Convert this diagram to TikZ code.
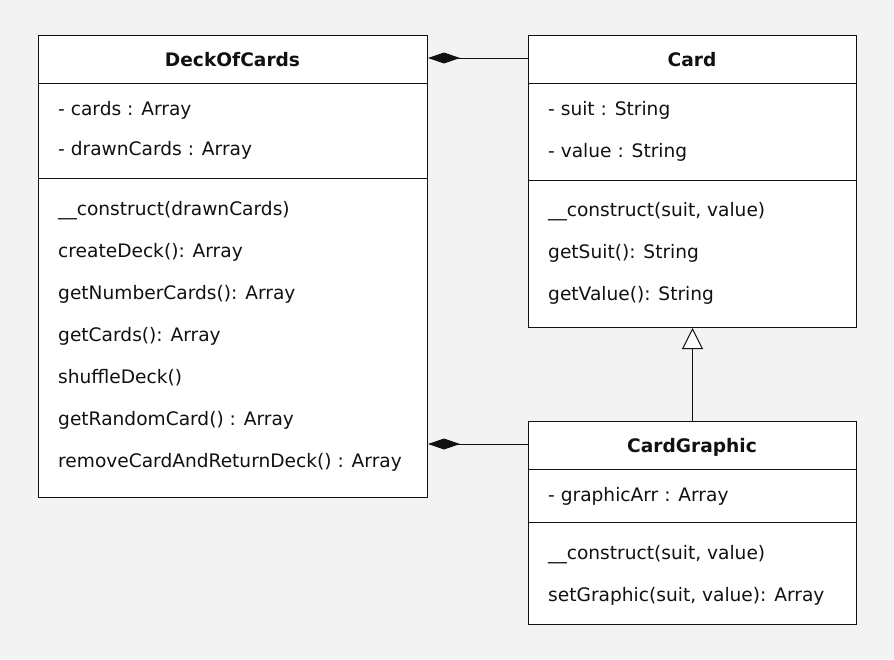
\documentclass[tikz,border=0pt]{standalone}
\usepackage{fontspec}
\setmainfont{DejaVu Sans}
\usepackage{tikz}
\usetikzlibrary{arrows.meta, positioning}
\definecolor{paper}{RGB}{243, 243, 243}
\definecolor{ink}{RGB}{17, 17, 17}

\newcommand{\umlsize}{\fontsize{18.6}{22}\selectfont}

\tikzset{
  classbox/.style={draw=ink, fill=white, line width=1pt, rectangle, inner sep=0pt, anchor=north west},
  member/.style={anchor=base west, inner sep=0pt, text=ink},
  classname/.style={anchor=base, inner sep=0pt, text=ink, font=\umlsize\bfseries},
  compose/.style={draw=ink, line width=1pt, -{Diamond[length=32pt, width=11pt, fill=ink]}},
  inherit/.style={draw=ink, line width=1pt, -{Triangle[open, length=21pt, width=21pt, fill=white]}}
}

\begin{document}
\begin{tikzpicture}[x=1pt, y=-1pt, font=\umlsize]

  \fill[paper] (0, 0) rectangle (894, 659);

  % boxes
  \node[classbox, minimum width=389pt, minimum height=462pt] (deck) at (38, 35) {};
  \node[classbox, minimum width=328pt, minimum height=292pt] (card) at (528, 35) {};
  \node[classbox, minimum width=328pt, minimum height=203pt] (graphic) at (528, 421) {};

  \draw[ink, line width=1pt] (deck.west |- 0, 83) -- (deck.east |- 0, 83);
  \draw[ink, line width=1pt] (deck.west |- 0, 178) -- (deck.east |- 0, 178);
  \draw[ink, line width=1pt] (card.west |- 0, 83) -- (card.east |- 0, 83);
  \draw[ink, line width=1pt] (card.west |- 0, 180) -- (card.east |- 0, 180);
  \draw[ink, line width=1pt] (graphic.west |- 0, 469) -- (graphic.east |- 0, 469);
  \draw[ink, line width=1pt] (graphic.west |- 0, 522) -- (graphic.east |- 0, 522);

  % DeckOfCards
  \node[classname] (deckTitle) at (232.5, 66) {DeckOfCards};
  \node[member] (deckCards) at (58, 115) {- cards : Array};
  \node[member] (deckDrawn) at (58, 155) {- drawnCards : Array};
  \node[member] (deckConstruct) at (58, 215) {\_\_construct(drawnCards)};
  \node[member] (deckCreate) at (58, 257) {createDeck(): Array};
  \node[member] (deckNumber) at (58, 299) {getNumberCards(): Array};
  \node[member] (deckGet) at (58, 341) {getCards(): Array};
  \node[member] (deckShuffle) at (58, 383) {shuffleDeck()};
  \node[member] (deckRandom) at (58, 425) {getRandomCard() : Array};
  \node[member] (deckRemove) at (58, 467) {removeCardAndReturnDeck() : Array};

  % Card
  \node[classname] (cardTitle) at (692, 66) {Card};
  \node[member] (cardSuit) at (548, 115) {- suit : String};
  \node[member] (cardValue) at (548, 157) {- value : String};
  \node[member] (cardConstruct) at (548, 216) {\_\_construct(suit, value)};
  \node[member] (cardGetSuit) at (548, 258) {getSuit(): String};
  \node[member] (cardGetValue) at (548, 300) {getValue(): String};

  % CardGraphic
  \node[classname] (graphicTitle) at (692, 452) {CardGraphic};
  \node[member] (graphicArr) at (548, 501) {- graphicArr : Array};
  \node[member] (graphicConstruct) at (548, 559) {\_\_construct(suit, value)};
  \node[member] (graphicSet) at (548, 601) {setGraphic(suit, value): Array};

  % relations
  \draw[compose] (card.west |- 0, 58) -- (deck.east |- 0, 58);
  \draw[compose] (graphic.west |- 0, 444) -- (deck.east |- 0, 444);
  \draw[inherit] (graphic.north) -- (card.south);

\end{tikzpicture}
\end{document}
